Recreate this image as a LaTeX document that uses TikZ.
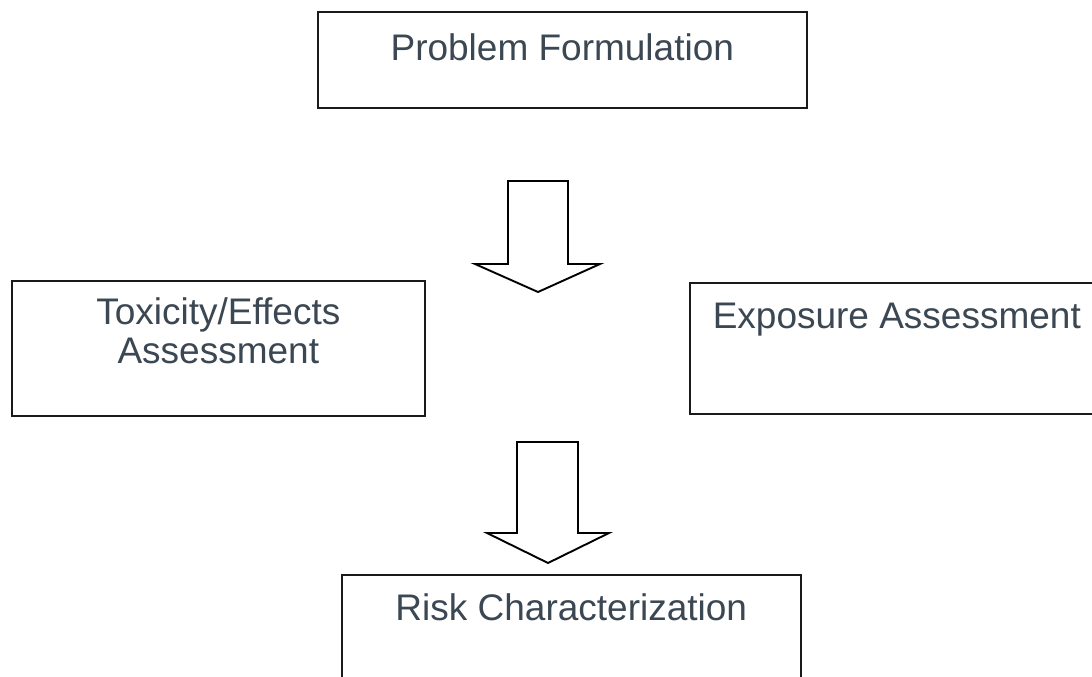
\documentclass[tikz,border=0pt]{standalone}
\usepackage{fontspec}
\setmainfont{Liberation Sans}
\usepackage{tikz}
\usetikzlibrary{arrows.meta}
\usepackage{xcolor}
\definecolor{ink}{HTML}{3B4752}
\definecolor{edge}{HTML}{1A1A1A}

\begin{document}
\begin{tikzpicture}[x=1pt, y=-1pt,
    every node/.style={font=\fontsize{37}{39}\selectfont, text=ink},
    stage/.style={draw=edge, line width=1.6pt, fill=white, anchor=north west, inner sep=0pt, align=center},
    blockarrow/.style={draw=black, line width=1.9pt, fill=white, line join=miter}]
    \useasboundingbox (0,0) rectangle (1092,677);
    \clip (0,0) rectangle (1092,677);
    \node[stage, minimum width=489pt, text height=49pt, text depth=47pt] (problem) at (317,11) {Problem Formulation};
    \node[stage, minimum width=413pt, text height=83pt, text depth=52pt] (toxicity) at (11,280) {Toxicity/Effects\\Assessment};
    \node[stage, minimum width=414pt, text height=46pt, text depth=85pt] (exposure) at (689,282) {Exposure Assessment};
    \node[stage, minimum width=459pt, text height=46pt, text depth=85pt] (risk) at (341,574) {Risk Characterization};
    % block arrows, drawn from their tips
    \coordinate (tipA) at (538,292);
    \coordinate (tipB) at (548,563);
    \draw[blockarrow] (tipA) -- ++(-63,-28) -- ++(33,0) -- ++(0,-83) -- ++(60,0) -- ++(0,83) -- ++(32,0) -- cycle;
    \draw[blockarrow] (tipB) -- ++(-61,-30) -- ++(30,0) -- ++(0,-91) -- ++(61,0) -- ++(0,91) -- ++(31,0) -- cycle;
\end{tikzpicture}
\end{document}
